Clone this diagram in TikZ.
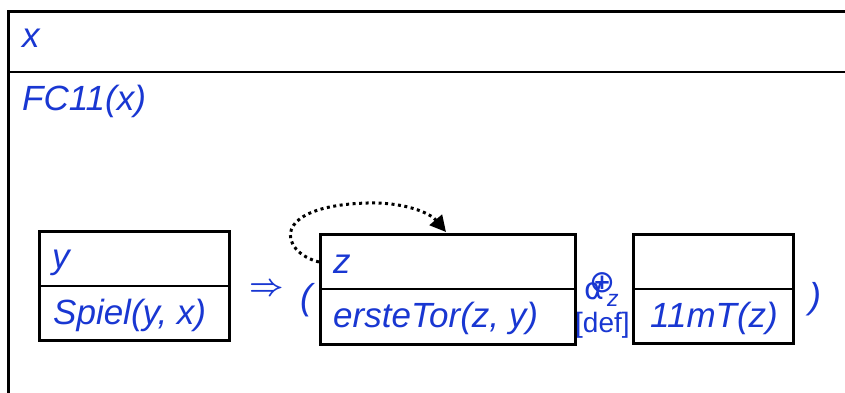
\documentclass[tikz,border=0pt]{standalone}
\usepackage{fix-cm}
\usepackage{fontspec}
\setmainfont{Liberation Sans}
\newfontfamily\dejavu{DejaVu Sans}
\usetikzlibrary{arrows.meta,calc}
\definecolor{txtblue}{RGB}{25,55,210}
\begin{document}
\begin{tikzpicture}[x=1pt,y=-1pt,
  frameline/.style={line width=3pt, line join=miter},
  divline/.style={line width=1.5pt},
  boxnode/.style={draw, line width=3pt, inner sep=0pt, outer sep=0pt, anchor=north west},
  lbl/.style={text=txtblue, font=\fontsize{35}{40}\selectfont\itshape, inner sep=0pt, anchor=base west},
  sym/.style={text=txtblue, inner sep=0pt},
  dotarrow/.style={line width=3pt, dash pattern=on 3pt off 3.5pt, -{Triangle[length=16pt,width=16pt]}}]
\useasboundingbox (0,0) rectangle (845,392);
\fill[white] (0,0) rectangle (845,392);
\clip (0,0) rectangle (845,392);
% outer frame
\draw[frameline] (8.5,420) -- (8.5,11) -- (870,11);
\draw[divline] (8.5,72) -- (870,72);
\node[lbl] (tx) at (22,47) {x};
\node[lbl] (tfc) at (22,110) {FC11(x)};
% boxes
\node[boxnode, minimum width=190pt, minimum height=109pt] (left) at (39,231) {};
\node[boxnode, minimum width=255pt, minimum height=110pt] (mid) at (320,234) {};
\node[boxnode, minimum width=160pt, minimum height=109pt] (right) at (633,234) {};
\draw[divline] ($(left.north west)+(0,55)$) -- ($(left.north east)+(0,55)$);
\draw[divline] ($(mid.north west)+(0,55)$) -- ($(mid.north east)+(0,55)$);
\draw[divline] ($(right.north west)+(0,55)$) -- ($(right.north east)+(0,55)$);
% labels
\node[lbl] (ly) at (52,268) {y};
\node[lbl] (lsp) at (53,324) {Spiel(y, x)};
\node[lbl] (mz) at (333,273) {z};
\node[lbl] (met) at (333,327) {ersteTor(z, y)};
\node[lbl] (r11) at (650,327) {11mT(z)};
% symbols
\node[sym, font=\fontsize{30}{30}\selectfont\boldmath] (impl) at (267,290) {$\Rightarrow$};
\node[sym, font=\fontsize{36}{40}\selectfont\itshape] (lpar) at (306,300) {(};
\node[sym, font=\fontsize{36}{40}\selectfont\itshape] (rpar) at (815,299) {)};
\node[sym, font=\dejavu\fontsize{30}{30}\selectfont] (alp) at (594,291) {α};
\node[sym, font=\dejavu\fontsize{31}{31}\selectfont] (oplus) at (602,283) {⊕};
\node[sym, font=\fontsize{23}{24}\selectfont\itshape, anchor=base west] (subz) at (607,306) {z};
\node[sym, font=\fontsize{28}{30}\selectfont, anchor=base west] (def) at (575,332) {[def]};
% dotted arrow
\coordinate (arrS) at ($(mid.north west)+(-1,28)$);
\coordinate (arrE) at ($(mid.north west)+(126,-2)$);
\draw[dotarrow] (arrS) .. controls (280,252) and (268,206) .. (367,203) .. controls (405,202) and (430,213) .. (arrE);
\end{tikzpicture}
\end{document}
